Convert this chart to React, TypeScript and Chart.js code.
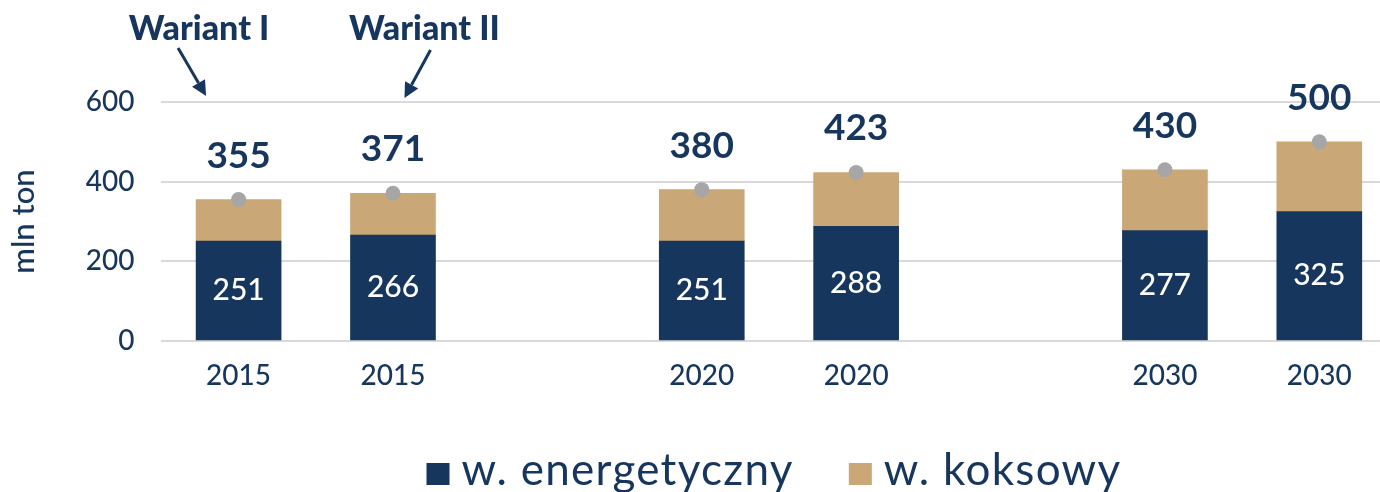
import { useEffect, useRef } from "react";
import { Chart, registerables } from "chart.js";

Chart.register(...registerables);

// ---- data ----
const categories = ["2015", "2015", "", "2020", "2020", "", "2030", "2030"];
const energetyczny = [251, 266, null, 251, 288, null, 277, 325];
const koksowy = [104, 105, null, 129, 135, null, 153, 175];
const totals = [355, 371, null, 380, 423, null, 430, 500];
const yTickValues = [0, 200, 400, 600];
const seriesLabels = ["w. energetyczny", "w. koksowy"];
const variantLabels = ["Wariant I", "Wariant II"];
const axisTitle = "mln ton";

// ---- styles ----
const NAVY = "#17365D";
const TAN = "#C9A777";
const DOT = "#A6A6A6";
const GRID = "#D9D9D9";
const FONT = "Lato, 'Open Sans', sans-serif";

const labelsPlugin = {
  id: "customLabels",
  afterDatasetsDraw(chart: any) {
    const ctx = chart.ctx;
    const xScale = chart.scales.x;
    const yScale = chart.scales.y;
    ctx.save();
    // inside labels (energetyczny)
    const metaE = chart.getDatasetMeta(0);
    ctx.fillStyle = "#FFFFFF";
    ctx.font = `500 30px ${FONT}`;
    ctx.textAlign = "center";
    ctx.textBaseline = "middle";
    metaE.data.forEach((bar: any, i: number) => {
      const v = energetyczny[i];
      if (v == null) return;
      const p = bar.getProps(["x", "y", "base"], true);
      ctx.fillText(String(v), p.x, (p.y + p.base) / 2);
    });
    // totals
    const metaT = chart.getDatasetMeta(2);
    ctx.fillStyle = NAVY;
    ctx.font = `700 37px ${FONT}`;
    metaT.data.forEach((pt: any, i: number) => {
      const v = totals[i];
      if (v == null) return;
      ctx.fillText(String(v), pt.x, pt.y - 44);
    });
    // variant annotations
    const y600 = yScale.getPixelForValue(600);
    const specs = [
      { idx: 0, textDx: -39.5, x1: -60.5, y1: 48, x2: -32.5, y2dy: -6 },
      { idx: 1, textDx: 31.5, x1: 37.5, y1: 50, x2: 11.5, y2dy: -4 },
    ];
    specs.forEach((s, k) => {
      const cx = xScale.getPixelForValue(s.idx);
      ctx.fillStyle = NAVY;
      ctx.font = `900 34px ${FONT}`;
      ctx.textAlign = "center";
      ctx.textBaseline = "middle";
      ctx.fillText(variantLabels[k], cx + s.textDx, 29);
      const sx = cx + s.x1;
      const sy = s.y1;
      const ex = cx + s.x2;
      const ey = y600 + s.y2dy;
      const ang = Math.atan2(ey - sy, ex - sx);
      const head = 15;
      const hw = 7.5;
      const bx = ex - head * Math.cos(ang);
      const by = ey - head * Math.sin(ang);
      ctx.strokeStyle = NAVY;
      ctx.lineWidth = 3;
      ctx.beginPath();
      ctx.moveTo(sx, sy);
      ctx.lineTo(bx, by);
      ctx.stroke();
      ctx.beginPath();
      ctx.moveTo(ex, ey);
      ctx.lineTo(bx + hw * Math.sin(ang), by - hw * Math.cos(ang));
      ctx.lineTo(bx - hw * Math.sin(ang), by + hw * Math.cos(ang));
      ctx.closePath();
      ctx.fill();
    });
    ctx.restore();
  },
  afterDraw(chart: any) {
    // legend
    const ctx = chart.ctx;
    const area = chart.chartArea;
    ctx.save();
    ctx.font = `400 44px ${FONT}`;
    (ctx as any).letterSpacing = "1.3px";
    ctx.textBaseline = "alphabetic";
    ctx.textAlign = "left";
    const boxW = 23;
    const boxH = 22;
    const gap = 12;
    const itemGap = 55;
    const colors = [NAVY, TAN];
    const widths = seriesLabels.map((t) => ctx.measureText(t).width);
    const total =
      widths.reduce((a, w) => a + boxW + gap + w, 0) + itemGap * (seriesLabels.length - 1);
    let x = (area.left + area.right) / 2 - 5 - total / 2;
    const baseline = chart.height - 7;
    seriesLabels.forEach((t, i) => {
      ctx.fillStyle = colors[i];
      ctx.fillRect(x, baseline - boxH, boxW, boxH);
      x += boxW + gap;
      ctx.fillStyle = NAVY;
      ctx.fillText(t, x, baseline);
      x += widths[i] + itemGap;
    });
    ctx.restore();
  },
};

export default function App() {
  const canvasRef = useRef<HTMLCanvasElement | null>(null);

  useEffect(() => {
    if (!canvasRef.current) return;
    const chart = new Chart(canvasRef.current, {
      type: "bar",
      data: {
        labels: categories,
        datasets: [
          {
            type: "bar",
            label: seriesLabels[0],
            data: energetyczny,
            backgroundColor: NAVY,
            stack: "s",
            order: 1,
            barThickness: 85,
          },
          {
            type: "bar",
            label: seriesLabels[1],
            data: koksowy,
            backgroundColor: TAN,
            stack: "s",
            order: 1,
            barThickness: 85,
          },
          {
            type: "line",
            label: "suma",
            data: totals,
            showLine: false,
            pointRadius: 7.5,
            pointHoverRadius: 7.5,
            pointBackgroundColor: DOT,
            pointBorderWidth: 0,
            borderWidth: 0,
            stack: "t",
            order: 0,
          } as any,
        ],
      },
      options: {
        animation: false,
        responsive: false,
        maintainAspectRatio: false,
        layout: { padding: { top: 102, bottom: 91, left: 0, right: 0 } },
        plugins: {
          legend: { display: false },
          tooltip: { enabled: false },
        },
        scales: {
          x: {
            stacked: true,
            offset: true,
            grid: { display: false, drawTicks: false },
            border: { display: false },
            ticks: {
              color: NAVY,
              font: { family: FONT, size: 28, weight: "500" },
              padding: 18,
              maxRotation: 0,
              autoSkip: false,
            },
            afterFit: (s: any) => {
              s.height = 60;
            },
          },
          y: {
            stacked: true,
            min: 0,
            max: 600,
            afterBuildTicks: (s: any) => {
              s.ticks = yTickValues.map((v) => ({ value: v }));
            },
            grid: { color: GRID, lineWidth: 2, drawTicks: false },
            border: { display: false },
            ticks: {
              color: NAVY,
              font: { family: FONT, size: 28, weight: "500" },
              padding: 27,
            },
            title: {
              display: true,
              text: axisTitle,
              color: NAVY,
              font: { family: FONT, size: 31, weight: "500" },
              padding: { top: 5, bottom: 0 },
            },
            afterFit: (s: any) => {
              s.width = 161.4;
            },
          },
        },
      },
      plugins: [labelsPlugin],
    });
    return () => chart.destroy();
  }, []);

  return (
    <div
      style={{
        position: "absolute",
        left: 0,
        top: 0,
        width: 1380,
        height: 492,
        overflow: "hidden",
        background: "#FFFFFF",
      }}
    >
      <canvas ref={canvasRef} width={1404} height={492} style={{ display: "block" }} />
    </div>
  );
}
